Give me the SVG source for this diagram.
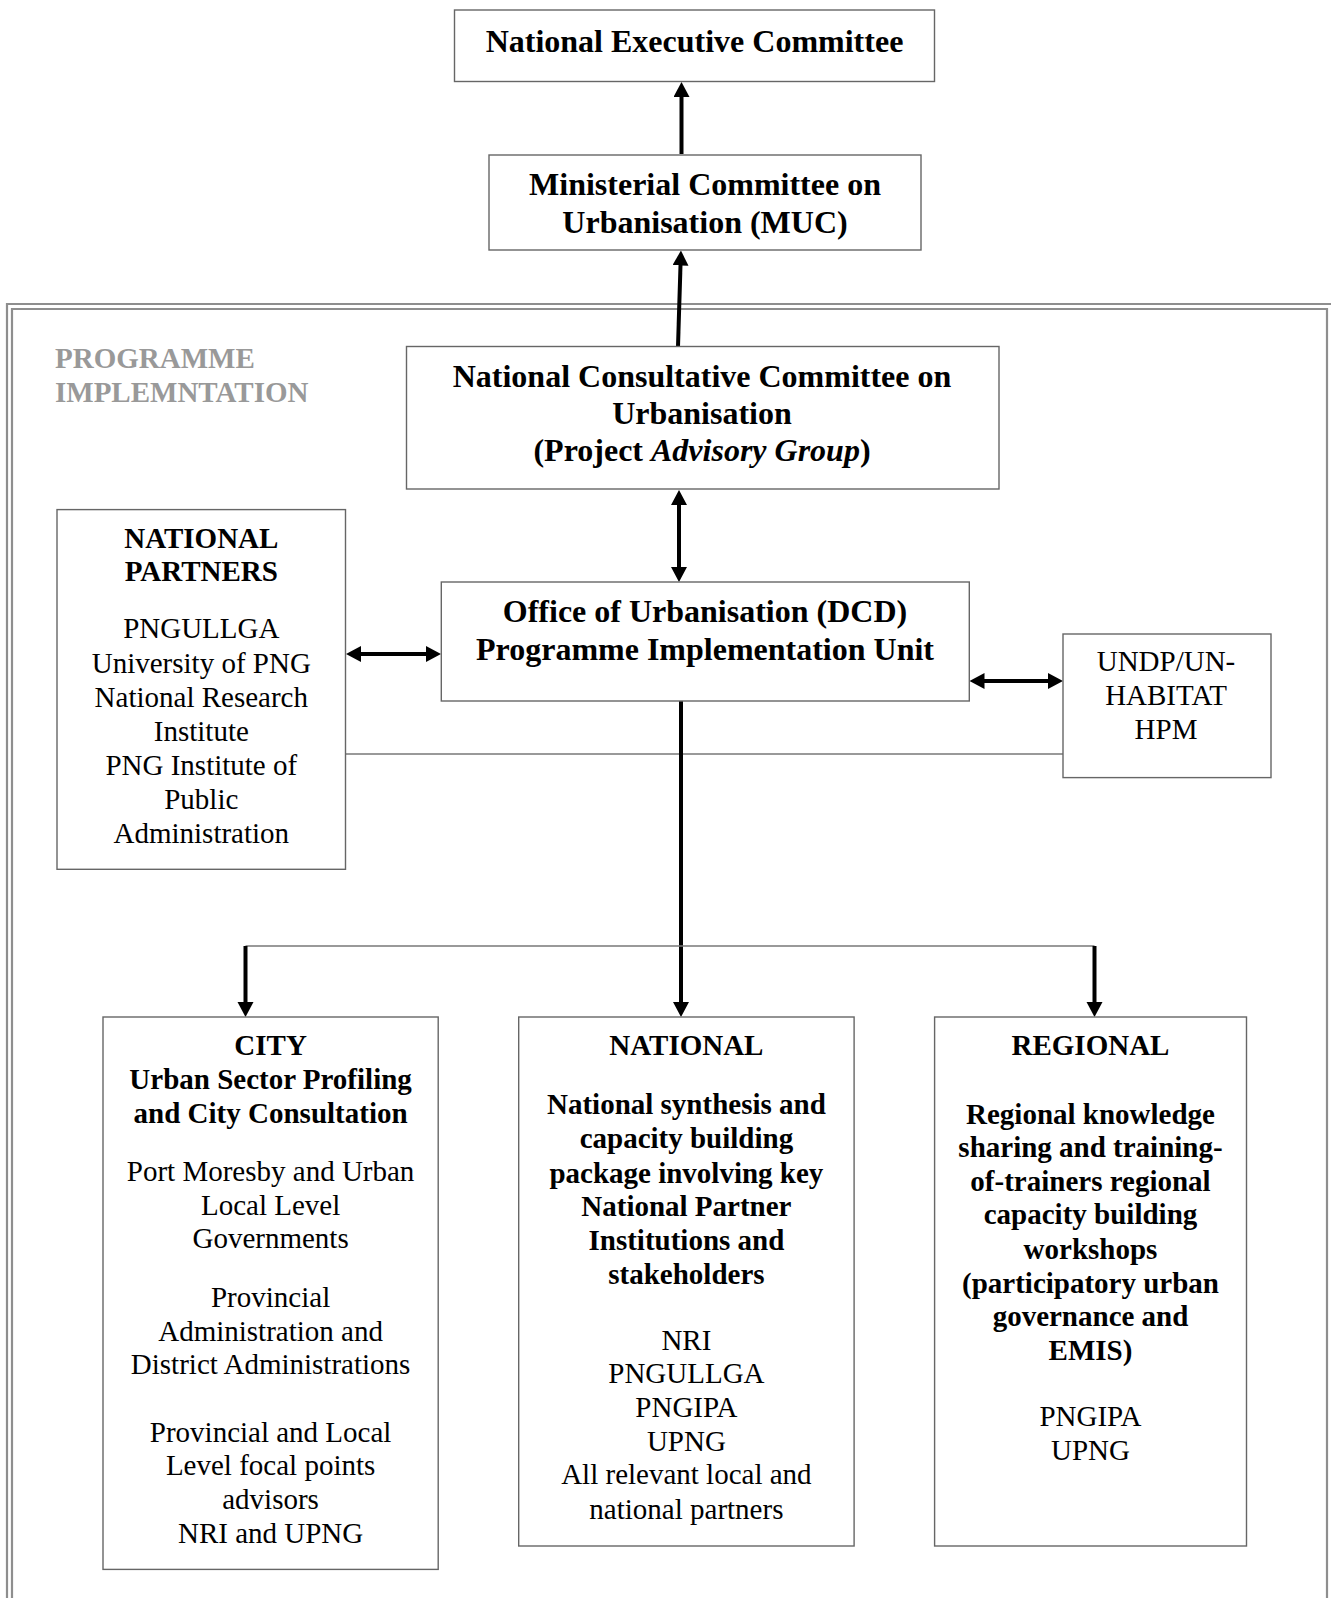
<svg xmlns="http://www.w3.org/2000/svg" width="1331" height="1598" viewBox="0 0 1331 1598">
<style>
.box{fill:#fff;stroke:#666;stroke-width:1.4}
.t{font-family:"Liberation Serif","Times New Roman",serif;font-size:29px;fill:#000;text-anchor:middle}
.b{font-weight:bold}
.big{font-size:32px;font-weight:bold}
.conn{stroke:#000;stroke-width:4;fill:none}
.thin{stroke:#777;stroke-width:1.5;fill:none}
.frame{stroke:#8e8e8e;stroke-width:2.2;fill:none}
</style>
<defs>
<marker id="ah" markerUnits="userSpaceOnUse" markerWidth="16" markerHeight="17" refX="7" refY="8" orient="auto-start-reverse">
<path d="M0,0 L15,8 L0,16 z" fill="#000"/>
</marker>
</defs>
<rect width="1331" height="1598" fill="#fff"/>
<g id="frame">
<path class="frame" d="M7,1598 V304 H1331"/>
<path class="frame" d="M12,1598 V309 H1327 V1598"/>
<text class="t b" x="55" y="368" style="text-anchor:start;fill:#999">PROGRAMME</text>
<text class="t b" x="55" y="402" style="text-anchor:start;fill:#999">IMPLEMNTATION</text>
</g>
<g id="connectors">
<line class="conn" x1="681.5" y1="154" x2="681.5" y2="90" marker-end="url(#ah)"/>
<line class="conn" x1="678" y1="346.5" x2="680.7" y2="258.5" marker-end="url(#ah)"/>
<line class="conn" x1="679" y1="498" x2="679" y2="574" marker-start="url(#ah)" marker-end="url(#ah)"/>
<line class="conn" x1="354" y1="654" x2="433" y2="654" marker-start="url(#ah)" marker-end="url(#ah)"/>
<line class="conn" x1="977.5" y1="681" x2="1055" y2="681" marker-start="url(#ah)" marker-end="url(#ah)"/>
<line class="thin" x1="345.5" y1="754" x2="1063" y2="754"/>
<line class="conn" x1="681" y1="701" x2="681" y2="1009" marker-end="url(#ah)"/>
<line class="thin" x1="245.5" y1="946" x2="1094.5" y2="946"/>
<line class="conn" x1="245.5" y1="946" x2="245.5" y2="1009" marker-end="url(#ah)"/>
<line class="conn" x1="1094.5" y1="946" x2="1094.5" y2="1009" marker-end="url(#ah)"/>
</g>
<g id="nec">
<rect class="box" x="454.5" y="10" width="480" height="71.5"/>
<text class="t big" x="694.5" y="51.5">National Executive Committee</text>
</g>
<g id="muc">
<rect class="box" x="489" y="155" width="432" height="95"/>
<text class="t big" x="705" y="195">Ministerial Committee on</text>
<text class="t big" x="705" y="233">Urbanisation (MUC)</text>
</g>
<g id="nccu">
<rect class="box" x="406.5" y="346.5" width="592.5" height="142.5"/>
<text class="t big" x="702" y="386.5">National Consultative Committee on</text>
<text class="t big" x="702" y="423.5">Urbanisation</text>
<text class="t big" x="702" y="461">(Project <tspan font-style="italic">Advisory Group</tspan>)</text>
</g>
<g id="office">
<rect class="box" x="441.3" y="582" width="528" height="119"/>
<text class="t big" x="705" y="622">Office of Urbanisation (DCD)</text>
<text class="t big" x="705" y="660">Programme Implementation Unit</text>
</g>
<g id="partners">
<rect class="box" x="57" y="509.6" width="288.5" height="359.7"/>
<text class="t b" x="201.3" y="547.6">NATIONAL</text>
<text class="t b" x="201.3" y="581.3">PARTNERS</text>
<text class="t" x="201.3" y="638.4">PNGULLGA</text>
<text class="t" x="201.3" y="673">University of PNG</text>
<text class="t" x="201.3" y="706.6">National Research</text>
<text class="t" x="201.3" y="741.3">Institute</text>
<text class="t" x="201.3" y="775">PNG Institute of</text>
<text class="t" x="201.3" y="808.6">Public</text>
<text class="t" x="201.3" y="843.2">Administration</text>
</g>
<g id="undp">
<rect class="box" x="1063" y="634" width="208" height="143.6"/>
<text class="t" x="1166" y="671">UNDP/UN-</text>
<text class="t" x="1166" y="704.6">HABITAT</text>
<text class="t" x="1166" y="739.3">HPM</text>
</g>
<g id="city">
<rect class="box" x="103" y="1017" width="335.2" height="552.4"/>
<text class="t b" x="270.6" y="1055.2">CITY</text>
<text class="t b" x="270.6" y="1088.8">Urban Sector Profiling</text>
<text class="t b" x="270.6" y="1122.5">and City Consultation</text>
<text class="t" x="270.6" y="1180.6">Port Moresby and Urban</text>
<text class="t" x="270.6" y="1215.3">Local Level</text>
<text class="t" x="270.6" y="1247.9">Governments</text>
<text class="t" x="270.6" y="1307">Provincial</text>
<text class="t" x="270.6" y="1340.6">Administration and</text>
<text class="t" x="270.6" y="1374.2">District Administrations</text>
<text class="t" x="270.6" y="1441.6">Provincial and Local</text>
<text class="t" x="270.6" y="1475.1">Level focal points</text>
<text class="t" x="270.6" y="1508.6">advisors</text>
<text class="t" x="270.6" y="1543.4">NRI and UPNG</text>
</g>
<g id="national">
<rect class="box" x="518.7" y="1017" width="335.4" height="529"/>
<text class="t b" x="686.4" y="1055.2">NATIONAL</text>
<text class="t b" x="686.4" y="1114.3">National synthesis and</text>
<text class="t b" x="686.4" y="1147.9">capacity building</text>
<text class="t b" x="686.4" y="1182.6">package involving key</text>
<text class="t b" x="686.4" y="1216.2">National Partner</text>
<text class="t b" x="686.4" y="1249.9">Institutions and</text>
<text class="t b" x="686.4" y="1283.5">stakeholders</text>
<text class="t" x="686.4" y="1349.8">NRI</text>
<text class="t" x="686.4" y="1383.4">PNGULLGA</text>
<text class="t" x="686.4" y="1417">PNGIPA</text>
<text class="t" x="686.4" y="1450.7">UPNG</text>
<text class="t" x="686.4" y="1484.3">All relevant local and</text>
<text class="t" x="686.4" y="1518.9">national partners</text>
</g>
<g id="regional">
<rect class="box" x="934.6" y="1017" width="311.9" height="529"/>
<text class="t b" x="1090.5" y="1055.2">REGIONAL</text>
<text class="t b" x="1090.5" y="1123.5">Regional knowledge</text>
<text class="t b" x="1090.5" y="1157.1">sharing and training-</text>
<text class="t b" x="1090.5" y="1190.8">of-trainers regional</text>
<text class="t b" x="1090.5" y="1224.4">capacity building</text>
<text class="t b" x="1090.5" y="1259.1">workshops</text>
<text class="t b" x="1090.5" y="1292.7">(participatory urban</text>
<text class="t b" x="1090.5" y="1326.3">governance and</text>
<text class="t b" x="1090.5" y="1360">EMIS)</text>
<text class="t" x="1090.5" y="1426.2">PNGIPA</text>
<text class="t" x="1090.5" y="1459.8">UPNG</text>
</g>
</svg>
